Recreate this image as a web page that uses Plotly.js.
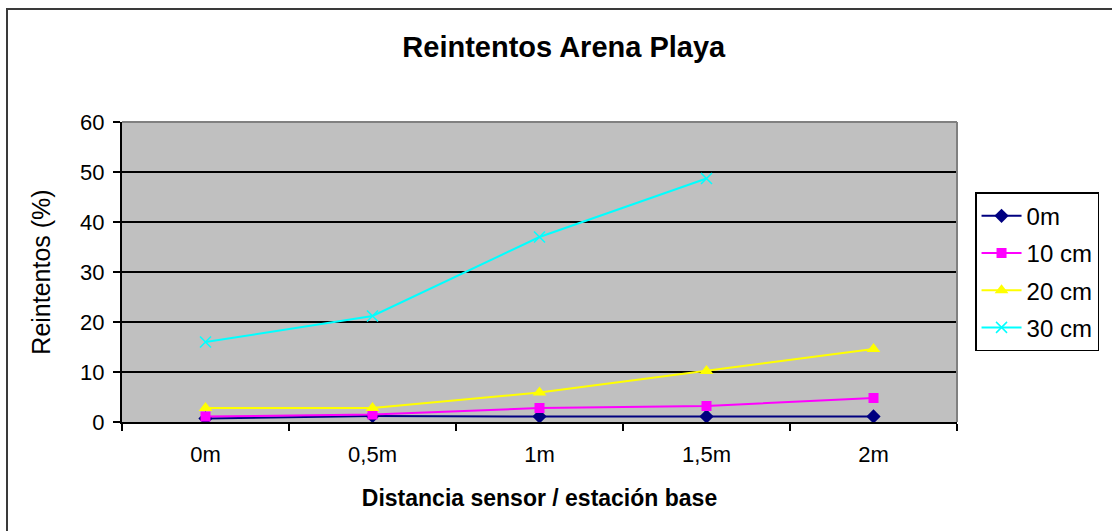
<!DOCTYPE html>
<html>
<head>
<meta charset="utf-8">
<script src="https://cdn.plot.ly/plotly-3.0.1.min.js"></script>
<style>
  html, body { margin: 0; padding: 0; background: #fff; }
  #chart { width: 1112px; height: 531px; position: relative; }
  #frame { position: absolute; left: 6px; top: 8px; width: 1200px; height: 600px;
           border-left: 2px solid #3a3a3a; border-top: 2px solid #3a3a3a; pointer-events: none; }
</style>
</head>
<body>
<div id="chart"></div>
<div id="frame"></div>
<script>
const categories = ['0m', '0,5m', '1m', '1,5m', '2m'];
const seriesNames = ['0m', '10 cm', '20 cm', '30 cm'];
const values0m = [0.7, 1.2, 1.1, 1.1, 1.1];
const values10cm = [1.1, 1.5, 2.8, 3.2, 4.8];
const values20cm = [2.8, 2.8, 5.9, 10.2, 14.6];
const values30cm = [16.0, 21.2, 37.0, 48.7, null];
const yTicks = [0, 10, 20, 30, 40, 50, 60];

const FONT = 'Arial, "Liberation Sans", sans-serif';

const styles = [
  {color: '#000080', symbol: 'diamond', size: 11},
  {color: '#FF00FF', symbol: 'square', size: 10},
  {color: '#FFFF00', symbol: 'triangle-up', size: 12},
  {color: '#00FFFF', symbol: 'x-thin', size: 11}
];
const allValues = [values0m, values10cm, values20cm, values30cm];

const traces = allValues.map((vals, i) => ({
  type: 'scatter',
  mode: 'lines+markers',
  name: seriesNames[i],
  legendgroup: 'g' + i,
  x: categories,
  y: vals,
  line: {color: styles[i].color, width: 2},
  marker: {color: styles[i].color, symbol: styles[i].symbol, size: styles[i].size,
           line: {color: styles[i].color, width: styles[i].symbol === 'x-thin' ? 1.5 : 0}},
  connectgaps: false
}));

const layout = {
  width: 1112, height: 531,
  margin: {l: 122, r: 155, t: 122, b: 109, pad: 0},
  paper_bgcolor: '#ffffff',
  plot_bgcolor: '#c0c0c0',
  title: {text: 'Reintentos Arena Playa', font: {family: FONT, size: 29, color: '#000', weight: 'bold'},
          x: 0.507, xanchor: 'center', y: 0.912, yanchor: 'middle'},
  xaxis: {
    type: 'category',
    categoryorder: 'array', categoryarray: categories,
    tickson: 'boundaries',
    ticks: 'outside', ticklen: 7, tickwidth: 1.5, tickcolor: '#000',
    showline: true, linecolor: '#000', linewidth: 2,
    showgrid: false, zeroline: false,
    tickfont: {family: FONT, size: 22, color: '#000'},
    ticklabelstandoff: 12,
    title: {text: 'Distancia sensor / estación base', font: {family: FONT, size: 23, color: '#000', weight: 'bold'}, standoff: 23},
    range: [-0.5, 4.5]
  },
  yaxis: {
    range: [0, 60],
    tickvals: yTicks,
    ticks: 'outside', ticklen: 7, tickwidth: 1.5, tickcolor: '#000',
    showline: true, linecolor: '#000', linewidth: 2,
    showgrid: true, gridcolor: '#000', gridwidth: 1.5,
    zeroline: false,
    tickfont: {family: FONT, size: 22, color: '#000'},
    ticklabelstandoff: 4,
    title: {text: 'Reintentos (%)', font: {family: FONT, size: 25, color: '#000'}, standoff: 22}
  },
  showlegend: true,
  legend: {
    x: 1.0216, y: 0.766, xanchor: 'left', yanchor: 'top',
    bgcolor: '#ffffff', bordercolor: '#000', borderwidth: 1.5,
    font: {family: FONT, size: 24, color: '#000'},
    tracegroupgap: 3,
    itemwidth: 40
  },
  shapes: [
    {type: 'line', xref: 'paper', yref: 'paper', x0: 0, x1: 1, y0: 1, y1: 1, line: {color: '#808080', width: 2}},
    {type: 'line', xref: 'paper', yref: 'paper', x0: 1, x1: 1, y0: 0, y1: 1, line: {color: '#808080', width: 2}}
  ]
};

Plotly.newPlot('chart', traces, layout, {displayModeBar: false, staticPlot: true});
</script>
</body>
</html>
